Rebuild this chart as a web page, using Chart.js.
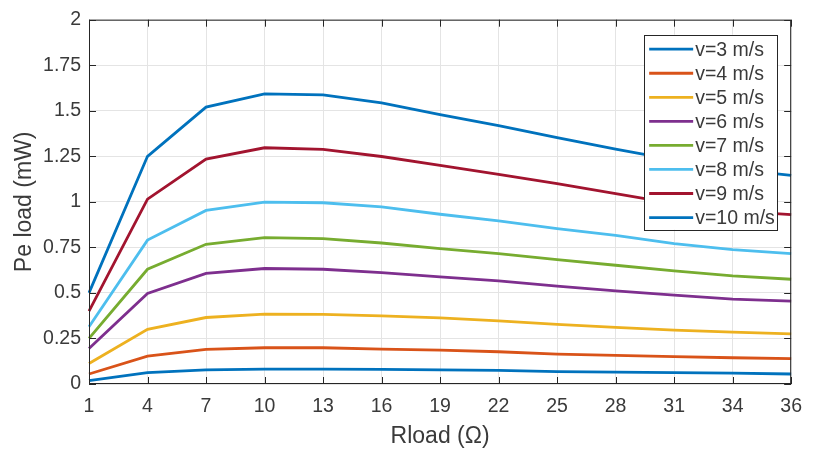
<!DOCTYPE html>
<html>
<head>
<meta charset="utf-8">
<script src="https://cdn.jsdelivr.net/npm/chart.js@4/dist/chart.umd.min.js"></script>
<style>
  html, body { margin: 0; padding: 0; background: #fff; }
  #out { display: block; }
</style>
</head>
<body>
<canvas id="out" width="813" height="450"></canvas>
<script>
// Rload categories (ohm) - equally spaced on the axis
const rLoad = ["1", "4", "7", "10", "13", "16", "19", "22", "25", "28", "31", "34", "36"];

// Pe load in mW, one array per wind speed
const v3  = [0.018, 0.062, 0.077, 0.082, 0.082, 0.080, 0.077, 0.075, 0.068, 0.065, 0.062, 0.060, 0.055];
const v4  = [0.055, 0.153, 0.190, 0.199, 0.199, 0.192, 0.186, 0.177, 0.164, 0.157, 0.150, 0.144, 0.139];
const v5  = [0.113, 0.300, 0.365, 0.384, 0.382, 0.374, 0.363, 0.347, 0.327, 0.311, 0.296, 0.285, 0.275];
const v6  = [0.195, 0.497, 0.607, 0.634, 0.630, 0.612, 0.588, 0.566, 0.537, 0.511, 0.488, 0.466, 0.455];
const v7  = [0.250, 0.630, 0.767, 0.804, 0.798, 0.774, 0.743, 0.716, 0.683, 0.652, 0.621, 0.594, 0.575];
const v8  = [0.314, 0.790, 0.953, 0.999, 0.995, 0.972, 0.932, 0.895, 0.853, 0.816, 0.771, 0.738, 0.716];
const v9  = [0.400, 1.015, 1.235, 1.297, 1.288, 1.249, 1.200, 1.151, 1.100, 1.045, 0.990, 0.950, 0.930];
const v10 = [0.500, 1.250, 1.520, 1.593, 1.587, 1.543, 1.479, 1.419, 1.352, 1.290, 1.230, 1.180, 1.145];

const seriesNames = ["v=3 m/s", "v=4 m/s", "v=5 m/s", "v=6 m/s", "v=7 m/s", "v=8 m/s", "v=9 m/s", "v=10 m/s"];
const seriesData = [v3, v4, v5, v6, v7, v8, v9, v10];
// MATLAB default colour order (wraps back to blue)
const colors = ["#0072BD", "#D95319", "#EDB120", "#7E2F8E", "#77AC30", "#4DBEEE", "#A2142F", "#0072BD"];

const fontFamily = "'Liberation Sans', Arial, sans-serif";
const textColor = "#3a3a3a";
const axisColor = "#262626";

// box + inward tick marks like matlab "box on"
const boxPlugin = {
  id: "matlabBox",
  afterDatasetsDraw(chart) {
    const { ctx, chartArea: a, scales } = chart;
    ctx.save();
    ctx.strokeStyle = axisColor;
    ctx.lineWidth = 1;
    ctx.strokeRect(a.left + 0.5, a.top + 0.5, a.right - a.left - 1, a.bottom - a.top - 1);
    const tl = 7;
    ctx.beginPath();
    scales.x.ticks.forEach((t, i) => {
      const px = Math.round(scales.x.getPixelForTick(i)) + 0.5;
      ctx.moveTo(px, a.bottom); ctx.lineTo(px, a.bottom - tl);
      ctx.moveTo(px, a.top); ctx.lineTo(px, a.top + tl);
    });
    scales.y.ticks.forEach((t, i) => {
      const py = Math.round(scales.y.getPixelForTick(i)) + 0.5;
      ctx.moveTo(a.left, py); ctx.lineTo(a.left + tl, py);
      ctx.moveTo(a.right, py); ctx.lineTo(a.right - tl, py);
    });
    ctx.stroke();
    ctx.restore();
  }
};

// legend box drawn inside the plot, top right
const legendPlugin = {
  id: "insideLegend",
  afterDraw(chart) {
    const { ctx, chartArea: a } = chart;
    const sets = chart.data.datasets;
    const w = 133, rowH = 24.05;
    const h = 195;
    const x0 = a.right - 14 - w;
    const y0 = a.top + 15;
    ctx.save();
    ctx.fillStyle = "#ffffff";
    ctx.fillRect(x0, y0, w, h);
    ctx.strokeStyle = axisColor;
    ctx.lineWidth = 1;
    ctx.strokeRect(Math.round(x0) + 0.5, Math.round(y0) + 0.5, w, h);
    ctx.font = "19.5px " + fontFamily;
    ctx.textBaseline = "middle";
    ctx.textAlign = "left";
    sets.forEach((ds, i) => {
      const cy = y0 + 14.5 + i * rowH;
      ctx.strokeStyle = ds.borderColor;
      ctx.lineWidth = 2.8;
      ctx.beginPath();
      ctx.moveTo(x0 + 5, cy);
      ctx.lineTo(x0 + 49, cy);
      ctx.stroke();
      ctx.fillStyle = textColor;
      ctx.fillText(ds.label, x0 + 51, cy + 1);
    });
    ctx.restore();
  }
};

const canvasCtx = document.getElementById("out").getContext("2d");

const chartConfig = {
  type: "line",
  data: {
    labels: rLoad,
    datasets: seriesData.map((d, i) => ({
      label: seriesNames[i],
      data: d,
      borderColor: colors[i],
      backgroundColor: colors[i],
      borderWidth: 2.8,
      pointRadius: 0,
      tension: 0,
      fill: false
    }))
  },
  options: {
    responsive: false,
    animation: false,
    layout: { padding: { top: 19, right: 12, left: 0, bottom: 0 } },
    plugins: {
      legend: { display: false },
      tooltip: { enabled: false }
    },
    scales: {
      x: {
        type: "category",
        offset: false,
        grid: { color: "#e4e4e4", drawTicks: false },
        border: { display: false },
        ticks: {
          autoSkip: false,
          maxRotation: 0,
          padding: 11,
          color: textColor,
          font: { family: fontFamily, size: 19.5 }
        },
        title: {
          display: true,
          text: "Rload (Ω)",
          color: textColor,
          font: { family: fontFamily, size: 23 },
          padding: { top: 0, bottom: 0 }
        },
        afterFit: (s) => { s.height = 66; }
      },
      y: {
        min: 0,
        max: 2,
        grid: { color: "#e4e4e4", drawTicks: false },
        border: { display: false },
        ticks: {
          stepSize: 0.25,
          padding: 8,
          color: textColor,
          font: { family: fontFamily, size: 19.5 },
          callback: (v) => String(+v.toFixed(2))
        },
        title: {
          display: true,
          text: "Pe load (mW)",
          color: textColor,
          font: { family: fontFamily, size: 23 },
          padding: { top: 11, bottom: 0 }
        },
        afterFit: (s) => { s.width = 89; }
      }
    }
  },
  plugins: [boxPlugin, legendPlugin]
};

window.chart = new Chart(canvasCtx, chartConfig);
</script>
</body>
</html>
